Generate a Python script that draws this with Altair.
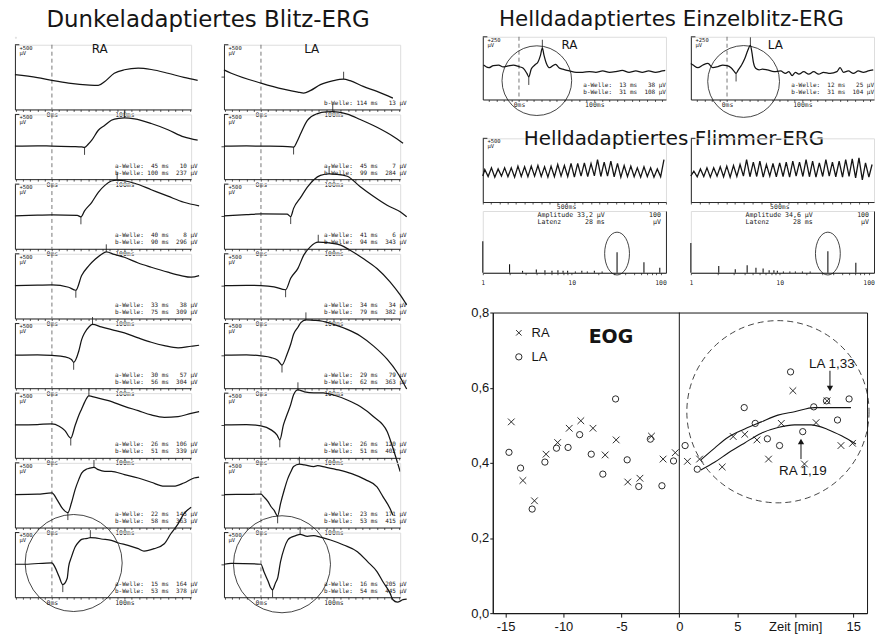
import altair as alt
import pandas as pd

SANS = "DejaVu Sans"
MONO = "DejaVu Sans Mono"
NUM = "Liberation Sans"
INK = "#151515"
DASH = "#555555"
NBSP = "\u00a0"
TXT_OPACITY = 0.99

# ---------------- Dunkeladaptiertes Blitz-ERG ----------------
DARK_T_DOMAIN = [-51, 192]      # ms
DARK_V_DOMAIN = [-265, 255]     # µV
DARK_TICKS = [-50, -40, -30, -20, -10, 0, 10, 20, 30, 40, 50, 60, 70, 80, 90, 100,
              110, 120, 130, 140, 150, 160, 170, 180, 190]

RA1_T = [-51, -20, 0, 23, 52, 64, 73, 86, 100, 119, 137, 160, 182, 201]
RA1_V = [14, -10, -32, -54, -70, -72, -40, 26, 54, 67, 56, 26, -8, -32]
RA2_T = [-51, -20, 0, 30, 41, 45, 50, 55, 64, 73, 82, 92, 100, 114, 137, 160, 182, 201]
RA2_V = [0, 3, 0, -3, -6, -10, 15, 48, 128, 168, 208, 224, 227, 219, 182, 132, 74, 48]
RA3_T = [-51, -20, 0, 35, 40, 45, 55, 64, 73, 82, 90, 100, 114, 137, 160, 182, 203]
RA3_V = [0, 5, 8, 3, -8, 40, 109, 189, 245, 280, 288, 282, 262, 210, 158, 109, 80]
RA4_T = [-51, -20, 0, 23, 33, 41, 51, 60, 68, 75, 86, 100, 119, 137, 160, 178, 192, 203]
RA4_V = [0, 3, 5, -14, -38, 80, 160, 213, 250, 271, 250, 227, 181, 147, 107, 80, 67, 80]
RA5_T = [-51, -20, 0, 18, 27, 30, 37, 41, 45, 51, 56, 68, 86, 100, 119, 137, 155, 174, 192, 203]
RA5_V = [0, 3, -2, -13, -34, -57, 32, 125, 179, 227, 247, 227, 200, 179, 139, 104, 77, 59, 72, 80]
RA6_T = [-51, -20, 0, 10, 18, 26, 32, 37, 41, 45, 51, 60, 78, 100, 119, 137, 155, 174, 192, 203]
RA6_V = [0, 3, 8, -11, -46, -106, -5, 75, 128, 181, 233, 221, 195, 149, 114, 80, 61, 66, 93, 106]
RA7_T = [-51, -20, 0, 7, 14, 18, 22, 27, 32, 37, 41, 48, 52, 58, 64, 73, 82, 100, 119,
         137, 155, 168, 182, 196, 203]
RA7_V = [0, 3, 13, -40, -107, -133, -145, -66, 40, 120, 173, 205, 212, 218, 200, 187, 187,
         160, 133, 99, 67, 67, 93, 133, 141]
RA8_T = [-51, -37, 0, 4, 10, 15, 21, 23, 27, 32, 37, 41, 45, 49, 53, 60, 68, 82, 91, 105,
         119, 127, 141, 155, 164, 174, 182, 192]
RA8_V = [0, 0, 12, -21, -101, -164, -115, -21, 59, 139, 179, 200, 205, 208, 214, 212, 203,
         192, 173, 152, 125, 106, 125, 165, 245, 325, 405, 459]

LA1_T = [-51, -41, 0, 31, 51, 59, 68, 82, 100, 114, 123, 141, 160, 182]
LA1_V = [53, 26, -53, -102, -126, -133, -114, -66, -34, -22, -34, -80, -120, -174]
LA2_T = [-51, -20, 0, 30, 45, 50, 55, 64, 78, 90, 99, 107, 119, 137, 160, 182, 196]
LA2_V = [0, 2, 0, -2, -7, 40, 104, 208, 262, 276, 277, 274, 258, 214, 152, 80, 24]
LA3_T = [-51, -20, 0, 36, 41, 45, 55, 64, 73, 82, 94, 105, 119, 137, 155, 174, 192, 201]
LA3_V = [0, 10, 16, 14, -6, 60, 150, 230, 290, 325, 337, 334, 318, 234, 157, 85, 32, -8]
LA4_T = [-51, -20, 0, 18, 34, 41, 51, 59, 68, 79, 86, 96, 110, 123, 141, 160, 178, 192, 201]
LA4_V = [0, 2, 0, -10, -34, 58, 138, 244, 311, 348, 346, 340, 324, 284, 217, 137, 30, -76, -156]
LA5_T = [-51, -20, 0, 14, 23, 29, 36, 41, 45, 51, 55, 62, 73, 82, 100, 119, 137, 155, 174, 188, 201]
LA5_V = [0, 3, -6, -19, -40, -79, 8, 88, 168, 225, 262, 284, 280, 276, 248, 208, 155, 75,
         -32, -139, -272]
LA6_T = [-51, -20, 0, 14, 22, 26, 31, 36, 41, 45, 51, 60, 73, 86, 100, 119, 137, 155, 174, 182, 192]
LA6_V = [0, 3, -8, -40, -80, -120, 0, 83, 163, 243, 282, 266, 258, 258, 240, 200, 147, 67,
         -53, -186, -376]
LA7_T = [-51, -20, 0, 4, 10, 14, 18, 23, 27, 32, 37, 41, 45, 53, 60, 73, 78, 89, 107, 125,
         144, 160, 168, 178, 182]
LA7_V = [0, 2, 3, -19, -58, -98, -125, -171, -72, 35, 128, 181, 225, 244, 238, 225, 232, 220,
         198, 168, 120, 62, -14, -112, -166]
LA8_T = [-51, -41, 0, 4, 10, 13, 16, 20, 23, 27, 32, 37, 41, 48, 54, 64, 73, 82, 96, 114,
         133, 147, 160, 168, 178, 182, 188, 196, 201]
LA8_V = [0, 8, 0, -59, -139, -185, -205, -150, -112, 21, 128, 195, 215, 230, 240, 225, 230,
         218, 195, 155, 101, 21, -59, -139, -232, -285, -304, -285, -280]

# a-/b-Welle: Latenz (ms) und Amplitude (µV) je Stufe
RA_A_MS = [None, 45, 40, 33, 30, 26, 22, 15]
RA_A_UV = [None, 10, 8, 38, 57, 106, 145, 164]
RA_B_MS = [None, 100, 90, 75, 56, 51, 58, 53]
RA_B_UV = [None, 237, 296, 309, 304, 339, 363, 378]
LA_A_MS = [None, 45, 41, 34, 29, 26, 23, 16]
LA_A_UV = [None, 7, 6, 34, 79, 120, 171, 205]
LA_B_MS = [114, 99, 94, 79, 62, 51, 53, 54]
LA_B_UV = [13, 284, 343, 382, 363, 402, 415, 445]

# ---------------- Helladaptiertes Einzelblitz-ERG ----------------
EIN_T_DOMAIN = [-48, 195]
EIN_V_DOMAIN = [-122, 111]
EIN_TICKS = [-40, -30, -20, -10, 0, 10, 20, 30, 40, 50, 60, 70, 80, 90, 100, 110, 120,
             130, 140, 150, 160, 170, 180, 190]
EIN_RA_T = [-47, -40, -34, -27, -21, -14.5, -7.5, 0, 5.7, 10.5, 13, 16.3, 21, 25.4, 28.6, 31,
            33, 36.4, 40.8, 45, 48.7, 53, 58, 67, 76, 84.6, 93.4, 102, 111, 120, 128.6, 137,
            146, 155, 163.6, 172, 181, 190, 194]
EIN_RA_V = [6, -4, 4, 6, -1, 2.6, 6, 0, -6, -25, -38, -9, 6, 18.5, 43, 70, 45, 12, -4, 4,
            8.6, -4, -9, -16, -21, -21, -18.5, -21, -16, -21, -18.5, -14, -21, -16, -21, -16,
            -21, -16, -14]
EIN_LA_T = [-48, -45, -38.6, -32, -25.4, -18.8, -12.2, -5.7, 0, 5.3, 9.7, 12, 15, 19.3, 23.7,
            27.2, 31, 33, 35, 38, 42.6, 47, 53.5, 62.4, 71, 77.6, 82, 86.4, 90.8, 95.3, 101.8,
            108.4, 115, 121.6, 128, 136.8, 145.7, 150, 154.5, 161, 167.6, 174.2, 180.8, 187.4, 194]
EIN_LA_V = [12, 6, -4, 6, 12, -4, 0, 6, 4, -4, -18.5, -25, -12, 6, 31, 58, 79, 53, 16, -6,
            -12, -9, -12, -18.5, -16, -25, -18.5, -33, -21, -28, -18.5, -28, -18.5, -28, -21,
            -25, -18.5, -4, -21, -16, -25, -16, -21, -16, -12]
EIN_RA_A = (13, 38)
EIN_RA_B = (31, 108)
EIN_LA_A = (12, 25)
EIN_LA_B = (31, 104)

# ---------------- Helladaptiertes Flimmer-ERG ----------------
FLK_V_DOMAIN = [-234, 265]
FLK_RA_T_DOMAIN = [0, 1100]
FLK_LA_T_DOMAIN = [0, 1035]
FLK_TICKS = [0, 50, 100, 150, 200, 250, 300, 350, 400, 450, 500, 550, 600, 650, 700, 750,
             800, 850, 900, 950, 1000, 1050, 1100]
FLK_RA_TROUGH_T = [0, 32, 72, 112, 151, 191, 231, 271, 311, 351, 391, 430, 470, 510, 550, 590,
                   630, 670, 709, 749, 789, 829, 869, 909, 948, 988, 1028, 1068]
FLK_RA_TROUGH_V = [-30, -34, -39, -31, -36, -39, -34, -36, -31, -34, -39, -36, -31, -34, -39,
                   -31, -34, -29, -34, -31, -36, -39, -34, -36, -39, -34, -39, -36]
FLK_RA_PEAK_T = [12, 52, 92, 131, 171, 211, 251, 291, 331, 371, 410, 450, 490, 530, 570, 610,
                 650, 689, 729, 769, 809, 849, 889, 928, 968, 1008, 1048, 1088]
FLK_RA_PEAK_V = [21, 34, 25, 34, 34, 47, 42, 47, 52, 42, 47, 60, 52, 68, 68, 73, 68, 99, 78,
                 86, 68, 52, 47, 34, 42, 34, 25, 99]
FLK_LA_TROUGH_T = [0, 36, 73, 110, 148, 185, 222, 260, 297, 334, 372, 409, 446, 483, 521, 558,
                   595, 633, 670, 707, 745, 782, 819, 857, 894, 931, 969, 1006]
FLK_LA_TROUGH_V = [-30, -36, -34, -39, -31, -36, -39, -34, -31, -36, -34, -39, -31, -36, -34,
                   -39, -31, -34, -36, -39, -34, -31, -36, -39, -34, -44, -60, -39]
FLK_LA_PEAK_T = [17, 54, 91, 129, 166, 203, 241, 278, 315, 353, 390, 427, 464, 502, 539, 576,
                 614, 651, 688, 726, 763, 800, 838, 875, 912, 950, 987, 1024]
FLK_LA_PEAK_V = [8, 25, 34, 34, 42, 47, 52, 60, 99, 78, 86, 60, 68, 73, 78, 86, 78, 99, 86,
                 73, 99, 78, 86, 99, 104, 112, 73, 60]

SPEC_F_DOMAIN = [1, 115]
SPEC_TICKS = [1, 2, 3, 4, 5, 6, 7, 8, 9, 10, 20, 30, 40, 50, 60, 70, 80, 90, 100]
SPEC_RA_F = [1, 2.0, 2.8, 4.0, 5.0, 6.0, 7.0, 8.0, 9.0, 11, 13, 15, 18, 22, 32.4, 65, 98]
SPEC_RA_A = [51, 13.5, 3, 5, 4, 3, 4, 3, 3, 2, 3, 2, 3, 2, 33.2, 17, 8]
SPEC_LA_F = [1, 2.06, 3.16, 4.3, 5.4, 6.5, 7.6, 8.6, 9.4, 11, 13, 15, 18, 22, 34.8, 71.8]
SPEC_LA_A = [48, 11, 5.5, 12, 8, 7, 4, 4, 3, 2, 2, 2, 2, 2, 34.6, 16]
FLK_RA_AMP, FLK_RA_LAT = "33,2", 28
FLK_LA_AMP, FLK_LA_LAT = "34,6", 28

# ---------------- EOG ----------------
EOG_X_TICKS = [-15, -10, -5, 0, 5, 10, 15]
EOG_Y_TICKS = [0.0, 0.2, 0.4, 0.6, 0.8]
EOG_RA_T = [-14.5, -13.5, -12.5, -11.5, -10.5, -9.5, -8.5, -7.45, -6.4, -5.45, -4.45, -3.4,
            -2.4, -1.4, -0.35, 0.7, 1.75, 3.7, 4.65, 5.65, 6.7, 7.7, 8.8, 9.8, 10.8, 11.8,
            12.75, 13.95, 14.95]
EOG_RA_R = [0.509, 0.353, 0.299, 0.423, 0.454, 0.492, 0.512, 0.492, 0.421, 0.461, 0.349,
            0.359, 0.471, 0.410, 0.427, 0.404, 0.410, 0.389, 0.470, 0.476, 0.461, 0.410,
            0.505, 0.592, 0.397, 0.507, 0.565, 0.446, 0.452]
EOG_LA_T = [-14.7, -13.7, -12.7, -11.6, -10.6, -9.6, -8.6, -7.6, -6.6, -5.5, -4.5, -3.5, -2.5,
            -1.5, -0.5, 0.5, 1.55, 5.6, 6.55, 7.6, 8.65, 9.6, 10.65, 11.6, 12.7, 13.65, 14.65]
EOG_LA_R = [0.428, 0.386, 0.277, 0.402, 0.439, 0.441, 0.475, 0.423, 0.370, 0.570, 0.408,
            0.337, 0.463, 0.339, 0.405, 0.446, 0.383, 0.547, 0.505, 0.464, 0.446, 0.642,
            0.483, 0.549, 0.565, 0.514, 0.570]
FIT_LA_T = [1.86, 3.07, 4.21, 5.64, 7.08, 8.51, 9.94, 11.66, 12.8, 14.81]
FIT_LA_R = [0.408, 0.440, 0.468, 0.490, 0.509, 0.527, 0.536, 0.547, 0.547, 0.547]
FIT_RA_T = [1.86, 3.07, 4.21, 5.64, 7.08, 8.51, 9.94, 11.37, 12.8, 14.0, 15.24]
FIT_RA_R = [0.381, 0.402, 0.426, 0.453, 0.479, 0.494, 0.501, 0.501, 0.489, 0.472, 0.450]
ARDEN_LA = "LA 1,33"
ARDEN_RA = "RA 1,19"

TITLE_DARK = "Dunkeladaptiertes Blitz-ERG"
TITLE_SINGLE = "Helldadaptiertes Einzelblitz-ERG"
TITLE_FLICKER = "Helldadaptiertes Flimmer-ERG"

CROSS = "M-1,-1L1,1M-1,1L1,-1"
ELLIPSE = "M-0.58,0A0.58,1 0 1,1 0.58,0A0.58,1 0 1,1 -0.58,0Z"


def keep_spaces(s):
    return s.replace(" ", NBSP)


def lin(dom):
    return alt.Scale(domain=dom, nice=False, zero=False)


def time_axis(ticks, named):
    expr = "".join(f"datum.value == {k} ? '{txt}' : " for k, txt in named) + "''"
    return alt.Axis(values=ticks, labelExpr=expr, title=None, grid=False, tickSize=2,
                    tickWidth=0.7, tickColor=INK, domainColor=INK, domainWidth=0.9,
                    labelFont=MONO, labelFontSize=6.5, labelColor=INK, labelPadding=0,
                    labelOpacity=TXT_OPACITY, labelOverlap=False, labelFlush=False)


def level_axis(zero_tick):
    return alt.Axis(values=[0], labels=False, ticks=zero_tick, tickSize=3, tickWidth=0.8,
                    tickColor=INK, title=None, grid=False, domainColor=INK, domainWidth=0.9)


def wave_line(name, ms, uv):
    return keep_spaces(f"{name}-Welle: {ms:>3} ms  {uv:>3} µV")


def heading(text, x, y, size):
    # block heading placed in pixels relative to its host panel
    return alt.Chart(pd.DataFrame({"s": [text]})).mark_text(
        font=SANS, fontSize=size, align="center", baseline="middle", color=INK).encode(
        x=alt.value(x), y=alt.value(y), text="s:N")


def spacer():
    return alt.Chart(pd.DataFrame({"s": [0]})).mark_point(size=0, opacity=0).encode(
        x=alt.X("s:Q", axis=None), y=alt.Y("s:Q", axis=None)).properties(width=1, height=1)


def scale_marks(X, Y, tdom, vdom, text):
    span = tdom[1] - tdom[0]
    bracket = alt.Chart(pd.DataFrame({"t": [tdom[0]], "t2": [tdom[0] + span * 0.025],
                                      "v": [vdom[1]]})).mark_rule(
        color=INK, strokeWidth=0.9).encode(x=X, x2="t2:Q", y=Y)
    out = [bracket]
    if text:
        out.append(alt.Chart(pd.DataFrame({"t": [tdom[0] + span * 0.02], "v": [vdom[1]],
                                           "s": [text]})).mark_text(
            font=MONO, fontSize=5.5, align="left", baseline="top", lineBreak="\n",
            lineHeight=5, dx=1, dy=1, color=INK, opacity=TXT_OPACITY).encode(
            x=X, y=Y, text="s:N"))
    return out


def erg_panel(t, v, tdom, vdom, width, height, ticks, scale_text, *, a=None, b=None,
              b_level=None, tick_len=60, text_at=None, eye=None, eye_at=None,
              ring_at=None, ring_size=0, zero_tick=False, extra=()):
    X = alt.X("t:Q", scale=lin(tdom), axis=time_axis(ticks, [(0, "0ms"), (100, "100ms")]))
    Y = alt.Y("v:Q", scale=lin(vdom), axis=level_axis(zero_tick))
    layers = [alt.Chart(pd.DataFrame({"t": [0]})).mark_rule(
        color=DASH, strokeDash=[4, 3], strokeWidth=0.8).encode(x=X)]
    layers += scale_marks(X, Y, tdom, vdom, scale_text)
    layers.append(alt.Chart(pd.DataFrame({"t": t, "v": v})).mark_line(
        color=INK, strokeWidth=1.25, interpolate="monotone").encode(x=X, y=Y))
    ticks_rows, text_rows = [], []
    if a is not None:
        ticks_rows.append({"t": a[0], "v": -a[1], "v2": -a[1] - tick_len})
        if b is not None:
            b_level = -a[1] + b[1]
        if text_at is not None:
            text_rows.append({"t": text_at[0], "v": text_at[1], "s": wave_line("a", *a)})
    if b is not None:
        ticks_rows.append({"t": b[0], "v": b_level, "v2": b_level + tick_len})
        if text_at is not None:
            text_rows.append({"t": text_at[0], "v": text_at[2], "s": wave_line("b", *b)})
    if ticks_rows:
        layers.append(alt.Chart(pd.DataFrame(ticks_rows)).mark_rule(
            color=INK, strokeWidth=0.8).encode(x=X, y=Y, y2="v2:Q"))
    if text_rows:
        layers.append(alt.Chart(pd.DataFrame(text_rows)).mark_text(
            font=MONO, fontSize=6, align="right", baseline="middle", color=INK,
            opacity=TXT_OPACITY).encode(x=X, y=Y, text="s:N"))
    if eye is not None:
        layers.append(alt.Chart(pd.DataFrame({"t": [eye_at[0]], "v": [eye_at[1]],
                                              "s": [eye]})).mark_text(
            font=SANS, fontSize=12, baseline="middle", color=INK).encode(x=X, y=Y, text="s:N"))
    if ring_at is not None:
        layers.append(alt.Chart(pd.DataFrame({"t": [ring_at[0]], "v": [ring_at[1]]})).mark_point(
            shape="circle", size=ring_size, filled=False, color=INK, strokeWidth=0.8,
            opacity=1).encode(x=X, y=Y))
    layers += list(extra)
    return alt.layer(*layers).properties(width=width, height=height)


def dark_column(traces, eye, a_ms, a_uv, b_ms, b_uv, eye_at, ring_at, zero_tick, extra):
    panels = []
    for i, (t, v) in enumerate(traces):
        a = (a_ms[i], a_uv[i]) if a_ms[i] is not None else None
        b = (b_ms[i], b_uv[i]) if b_ms[i] is not None else None
        b_level = v[t.index(b_ms[i])] if (b is not None and a is None) else None
        last = i == len(traces) - 1
        panels.append(erg_panel(
            t, v, DARK_T_DOMAIN, DARK_V_DOMAIN, 177, 65, DARK_TICKS, "+500\nµV",
            a=a, b=b, b_level=b_level, tick_len=60, text_at=(201, -157, -213),
            eye=eye if i == 0 else None, eye_at=eye_at,
            ring_at=ring_at if last else None, ring_size=9500, zero_tick=zero_tick,
            extra=extra if i == 0 else ()))
    return alt.vconcat(*panels, spacing=5, bounds="flush")


def flicker_panel(trough_t, trough_v, peak_t, peak_v, tdom, width, scale_text, extra=()):
    tt, vv = [], []
    for i in range(len(peak_t)):
        tt += [trough_t[i], peak_t[i]]
        vv += [trough_v[i], peak_v[i]]
    X = alt.X("t:Q", scale=lin(tdom), axis=time_axis(FLK_TICKS, [(500, "500ms")]))
    Y = alt.Y("v:Q", scale=lin(FLK_V_DOMAIN), axis=level_axis(False))
    layers = scale_marks(X, Y, tdom, FLK_V_DOMAIN, scale_text)
    layers.append(alt.Chart(pd.DataFrame({"t": tt, "v": vv})).mark_line(
        color=INK, strokeWidth=1.3).encode(x=X, y=Y))
    layers += list(extra)
    return alt.layer(*layers).properties(width=width, height=64)


def spectrum_panel(freq, amp, amp_text, latency, ring_f, width):
    X = alt.X("f:Q", scale=alt.Scale(type="log", domain=SPEC_F_DOMAIN, nice=False),
              axis=alt.Axis(values=SPEC_TICKS, title=None, grid=False, tickSize=2,
                            tickWidth=0.7, tickColor=INK, domainColor=INK, domainWidth=1.1,
                            labelExpr="datum.value == 1 || datum.value == 10 || datum.value == 100 ? '' + datum.value : ''",
                            labelFont=MONO, labelFontSize=6.5, labelColor=INK, labelPadding=5,
                            labelOpacity=TXT_OPACITY, labelOverlap=False, labelFlush=False))
    Y = alt.Y("a:Q", scale=lin([0, 100]),
              axis=alt.Axis(orient="right", values=[0, 100], labels=False, ticks=False,
                            domainColor=INK, domainWidth=0.9, title=None, grid=False))
    lines = alt.Chart(pd.DataFrame({"f": freq, "a": amp})).mark_rule(
        color=INK, strokeWidth=1.1).encode(x=X, y=Y, y2=alt.datum(0))
    info = alt.Chart(pd.DataFrame({
        "f": [4.13], "a": [99],
        "s": [keep_spaces(f"Amplitude {amp_text} µV") + "\n" +
              keep_spaces(f"Latenz      {latency} ms")]})).mark_text(
        font=MONO, fontSize=6.6, align="left", baseline="top", lineBreak="\n", lineHeight=7,
        color=INK, opacity=TXT_OPACITY).encode(x=X, y=Y, text="s:N")
    unit = alt.Chart(pd.DataFrame({"f": [101], "a": [99], "s": ["100\nµV"]})).mark_text(
        font=MONO, fontSize=6.6, align="right", baseline="top", lineBreak="\n", lineHeight=7,
        color=INK, opacity=TXT_OPACITY).encode(x=X, y=Y, text="s:N")
    ring = alt.Chart(pd.DataFrame({"f": [ring_f], "a": [31]})).mark_point(
        shape=ELLIPSE, size=1850, filled=False, color=INK, strokeWidth=0.8,
        opacity=1).encode(x=X, y=Y)
    return alt.layer(lines, info, unit, ring).properties(width=width, height=62)


def eog_chart():
    X = alt.X("t:Q", scale=lin([-16.1, 16.2]),
              axis=alt.Axis(values=EOG_X_TICKS, title=None, grid=False, tickSize=4,
                            labelExpr="datum.value == 10 ? 'Zeit [min]' : '' + datum.value",
                            labelFont=NUM, labelFontSize=13, labelColor=INK, labelPadding=3,
                            tickColor=INK, domainColor=INK, labelFlush=False))
    Y = alt.Y("r:Q", scale=lin([0, 0.8]),
              axis=alt.Axis(values=EOG_Y_TICKS, title=None, grid=False, tickSize=3,
                            labelExpr="replace(format(datum.value, '.1f'), '.', ',')",
                            labelFont=NUM, labelFontSize=13, labelColor=INK, labelPadding=1,
                            tickColor=INK, domainColor=INK, labelFlush=False))
    zero = alt.Chart(pd.DataFrame({"t": [0]})).mark_rule(color=INK, strokeWidth=1).encode(x=X)
    ring = alt.Chart(pd.DataFrame({"t": [8.51], "r": [0.536]})).mark_point(
        shape="circle", size=33500, filled=False, color=INK, strokeWidth=0.8,
        strokeDash=[6, 4], opacity=1).encode(x=X, y=Y)
    ra = alt.Chart(pd.DataFrame({"t": EOG_RA_T, "r": EOG_RA_R})).mark_point(
        shape=CROSS, size=45, filled=False, color=INK, strokeWidth=0.9, opacity=1).encode(x=X, y=Y)
    la = alt.Chart(pd.DataFrame({"t": EOG_LA_T, "r": EOG_LA_R})).mark_point(
        shape="circle", size=40, filled=False, color=INK, strokeWidth=0.9, opacity=1).encode(x=X, y=Y)
    fit_la = alt.Chart(pd.DataFrame({"t": FIT_LA_T, "r": FIT_LA_R})).mark_line(
        color=INK, strokeWidth=1.1, interpolate="monotone").encode(x=X, y=Y)
    fit_ra = alt.Chart(pd.DataFrame({"t": FIT_RA_T, "r": FIT_RA_R})).mark_line(
        color=INK, strokeWidth=1.1, interpolate="monotone").encode(x=X, y=Y)
    shafts = alt.Chart(pd.DataFrame({"t": [13.0, 10.5], "r": [0.645, 0.410],
                                     "r2": [0.603, 0.452]})).mark_rule(
        color=INK, strokeWidth=1).encode(x=X, y=Y, y2="r2:Q")
    head_down = alt.Chart(pd.DataFrame({"t": [13.0], "r": [0.598]})).mark_point(
        shape="triangle-down", size=40, filled=True, color=INK, opacity=1).encode(x=X, y=Y)
    head_up = alt.Chart(pd.DataFrame({"t": [10.5], "r": [0.457]})).mark_point(
        shape="triangle-up", size=40, filled=True, color=INK, opacity=1).encode(x=X, y=Y)
    notes = alt.Chart(pd.DataFrame({"t": [11.2, 8.6], "r": [0.662, 0.377],
                                    "s": [ARDEN_LA, ARDEN_RA]})).mark_text(
        font=NUM, fontSize=13.5, align="left", baseline="middle", color=INK).encode(
        x=X, y=Y, text="s:N")
    title = alt.Chart(pd.DataFrame({"t": [-5.9], "r": [0.735], "s": ["EOG"]})).mark_text(
        font=SANS, fontSize=19, fontWeight="bold", baseline="middle", color=INK).encode(
        x=X, y=Y, text="s:N")
    key_ra = alt.Chart(pd.DataFrame({"t": [-13.85], "r": [0.746]})).mark_point(
        shape=CROSS, size=30, filled=False, color=INK, strokeWidth=0.9, opacity=1).encode(x=X, y=Y)
    key_la = alt.Chart(pd.DataFrame({"t": [-13.85], "r": [0.682]})).mark_point(
        shape="circle", size=40, filled=False, color=INK, strokeWidth=0.9, opacity=1).encode(x=X, y=Y)
    key_txt = alt.Chart(pd.DataFrame({"t": [-12.75, -12.75], "r": [0.746, 0.682],
                                      "s": ["RA", "LA"]})).mark_text(
        font=NUM, fontSize=13, align="left", baseline="middle", color=INK).encode(
        x=X, y=Y, text="s:N")
    return alt.layer(zero, ring, fit_la, fit_ra, ra, la, shafts, head_down, head_up, notes,
                     title, key_ra, key_la, key_txt).properties(
        width=376, height=302, view=alt.ViewBackground(stroke=INK, strokeWidth=1))


RA_TRACES = [(RA1_T, RA1_V), (RA2_T, RA2_V), (RA3_T, RA3_V), (RA4_T, RA4_V),
             (RA5_T, RA5_V), (RA6_T, RA6_V), (RA7_T, RA7_V), (RA8_T, RA8_V)]
LA_TRACES = [(LA1_T, LA1_V), (LA2_T, LA2_V), (LA3_T, LA3_V), (LA4_T, LA4_V),
             (LA5_T, LA5_V), (LA6_T, LA6_V), (LA7_T, LA7_V), (LA8_T, LA8_V)]

# left block: two columns of eight panels, 210 px apart, 8 px below the right block
ra_col = dark_column(RA_TRACES, "RA", RA_A_MS, RA_A_UV, RA_B_MS, RA_B_UV, (66, 223), (30, 10),
                     False, [heading(TITLE_DARK, 194, -25, 23)])
la_col = dark_column(LA_TRACES, "LA", LA_A_MS, LA_A_UV, LA_B_MS, LA_B_UV, (70, 223), (29, 0),
                     True, [])
left_block = alt.vconcat(spacer(), alt.hconcat(ra_col, la_col, spacing=210, bounds="flush"),
                         spacing=7, bounds="flush")

ein_ra = erg_panel(EIN_RA_T, EIN_RA_V, EIN_T_DOMAIN, EIN_V_DOMAIN, 184, 63, EIN_TICKS,
                   "+250\nµV", a=EIN_RA_A, b=EIN_RA_B, tick_len=30, text_at=(195, -70, -96),
                   eye="RA", eye_at=(67, 81), ring_at=(23.7, -52), ring_size=4900,
                   extra=[heading(TITLE_SINGLE, 189.5, -17, 21.5)])
ein_la = erg_panel(EIN_LA_T, EIN_LA_V, EIN_T_DOMAIN, EIN_V_DOMAIN, 184, 63, EIN_TICKS,
                   "+250\nµV", a=EIN_LA_A, b=EIN_LA_B, tick_len=30, text_at=(195, -70, -96),
                   eye="LA", eye_at=(64, 81), ring_at=(22, -55), ring_size=5200)
einzel_row = alt.hconcat(ein_ra, ein_la, spacing=25, bounds="flush")

flicker_row = alt.hconcat(
    flicker_panel(FLK_RA_TROUGH_T, FLK_RA_TROUGH_V, FLK_RA_PEAK_T, FLK_RA_PEAK_V,
                  FLK_RA_T_DOMAIN, 184, "+500\nµV", [heading(TITLE_FLICKER, 192, 0.5, 20)]),
    flicker_panel(FLK_LA_TROUGH_T, FLK_LA_TROUGH_V, FLK_LA_PEAK_T, FLK_LA_PEAK_V,
                  FLK_LA_T_DOMAIN, 184, None),
    spacing=25, bounds="flush")
spectrum_row = alt.hconcat(
    spectrum_panel(SPEC_RA_F, SPEC_RA_A, FLK_RA_AMP, FLK_RA_LAT, 32.4, 184),
    spectrum_panel(SPEC_LA_F, SPEC_LA_A, FLK_LA_AMP, FLK_LA_LAT, 34.8, 184),
    spacing=25, bounds="flush")
eog_row = alt.hconcat(spacer(), eog_chart(), spacing=9, bounds="flush")

right_block = alt.vconcat(
    einzel_row,
    alt.vconcat(flicker_row,
                alt.vconcat(spectrum_row, eog_row, spacing=102, bounds="flush"),
                spacing=73, bounds="flush"),
    spacing=102, bounds="flush")

chart = alt.hconcat(left_block, right_block, spacing=470, bounds="flush").properties(
    padding={"left": 12, "top": 6.5, "right": 0, "bottom": 0}
).configure_view(stroke=None).configure(font=SANS)

chart.save("out.html", embed_options={"renderer": "svg", "actions": False})
